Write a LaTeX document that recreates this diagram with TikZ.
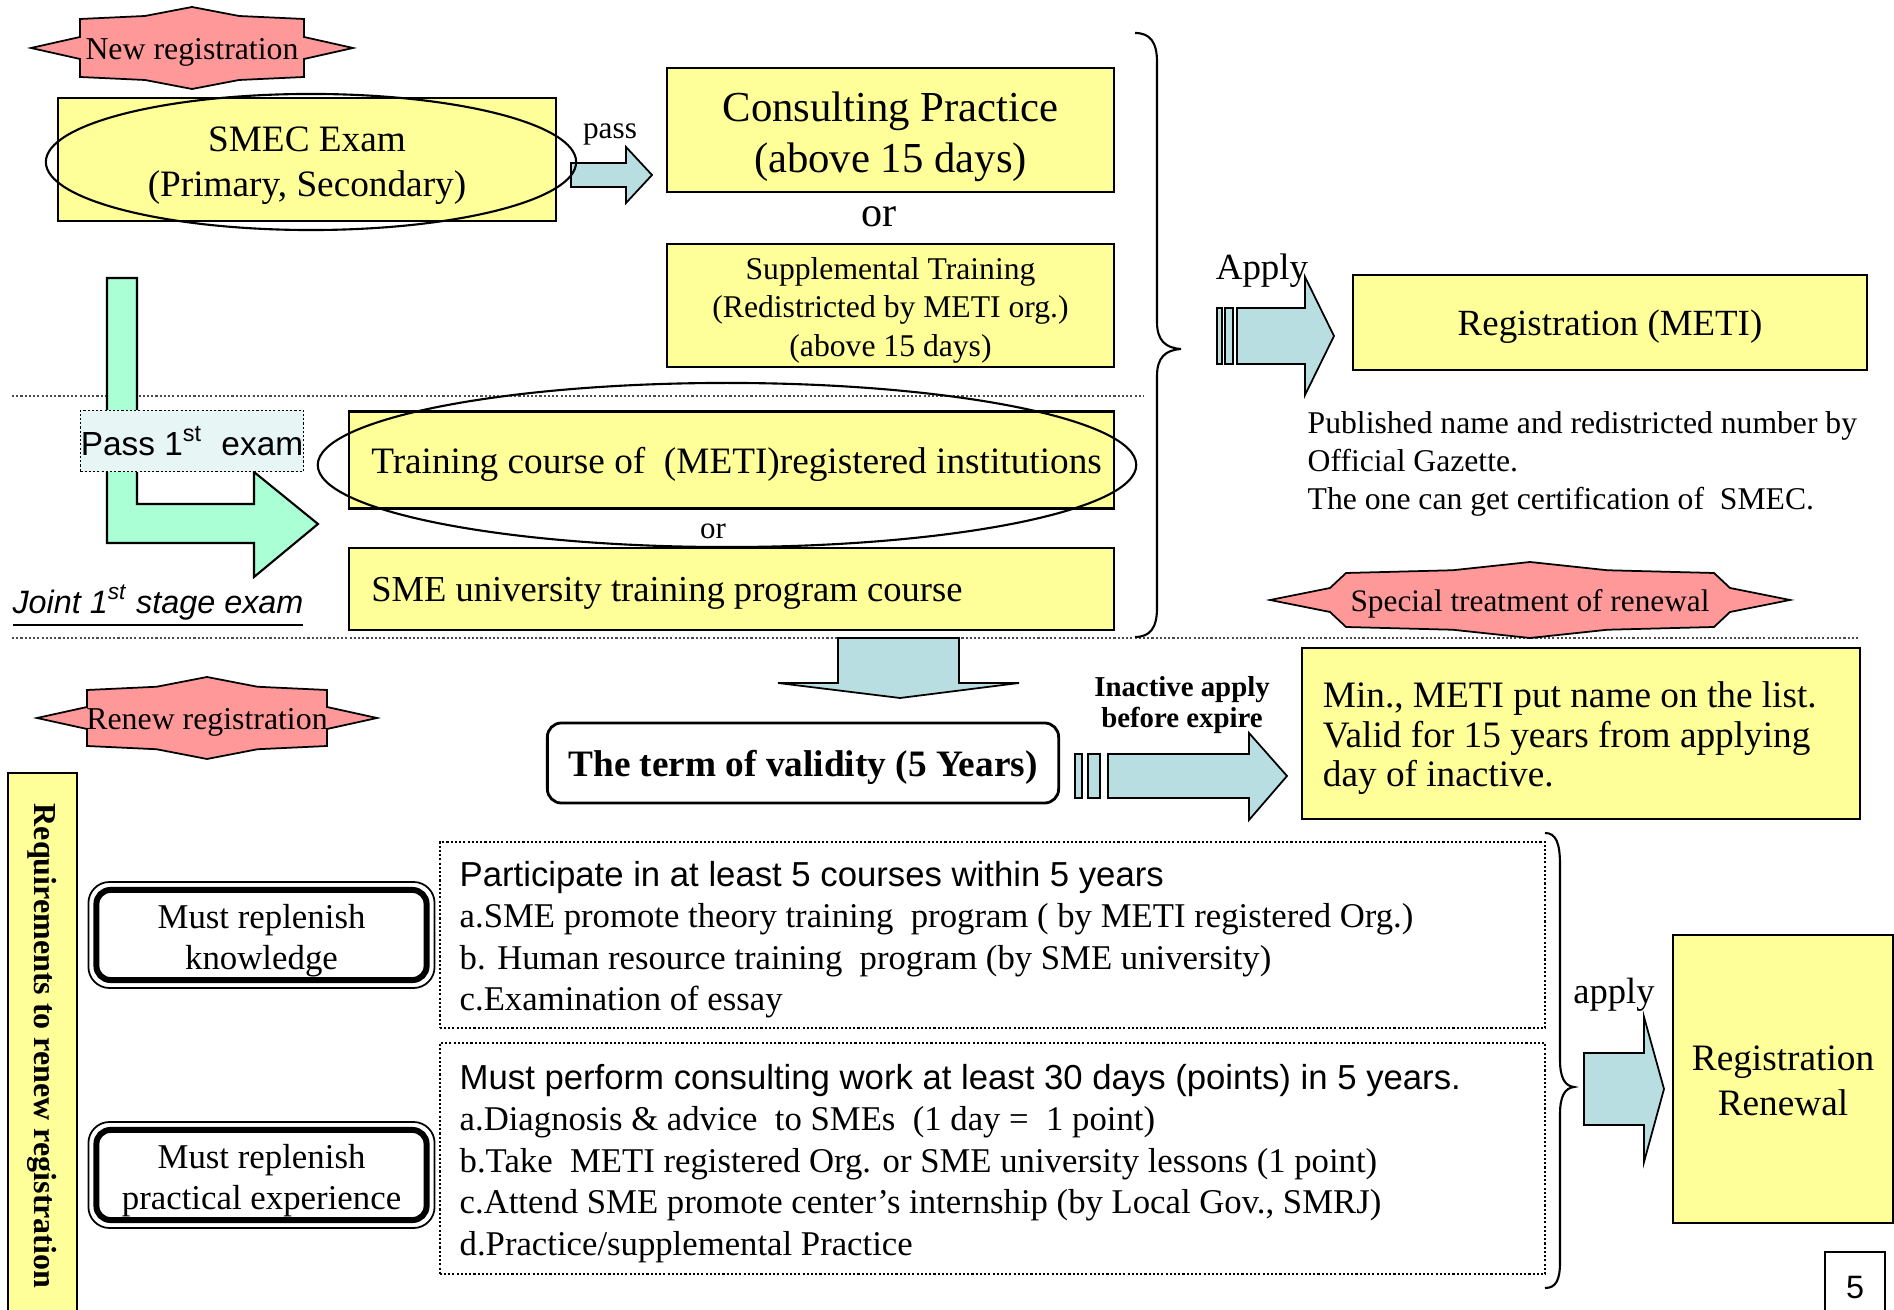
\documentclass[tikz,border=0pt]{standalone}
\usepackage{fontspec}
\setmainfont{Liberation Serif}
\setsansfont{Liberation Sans}
\usepackage{tikz}
\usetikzlibrary{calc,positioning}

\definecolor{boxyellow}{RGB}{255,255,153}
\definecolor{badgepink}{RGB}{255,153,153}
\definecolor{arrowblue}{RGB}{184,222,226}
\definecolor{mintgreen}{RGB}{170,255,212}
\definecolor{passcyan}{RGB}{232,245,245}

\newcommand{\setfs}[2]{\fontsize{#1}{#2}\selectfont}
\newcommand{\topgap}[1]{\rule{0pt}{#1}}
% centre x, centre y, body half width, body half height, tip, peak, notch x, notch y
\newcommand{\badge}[8]{%
  \draw[badge] ({#1-#5},{#2}) -- ({#1-#7},{#2-#8}) -- ({#1-#3},{#2-#4})
    -- ({#1-0.42*#3},{#2-#4-0.25*(#6-#4)}) -- ({#1},{#2-#6})
    -- ({#1+0.42*#3},{#2-#4-0.25*(#6-#4)}) -- ({#1+#3},{#2-#4})
    -- ({#1+#7},{#2-#8}) -- ({#1+#5},{#2}) -- ({#1+#7},{#2+#8})
    -- ({#1+#3},{#2+#4}) -- ({#1+0.42*#3},{#2+#4+0.25*(#6-#4)})
    -- ({#1},{#2+#6}) -- ({#1-0.42*#3},{#2+#4+0.25*(#6-#4)})
    -- ({#1-#3},{#2+#4}) -- ({#1-#7},{#2+#8}) -- cycle;}

\tikzset{
  ybox/.style={draw, fill=boxyellow, line width=0.6pt, align=center, inner sep=0pt},
  badge/.style={draw, fill=badgepink, line width=0.5pt},
  blockarrow/.style={draw, fill=arrowblue, line width=0.5pt},
  infobox/.style={draw, line width=0.5pt, dash pattern=on 0.6pt off 0.6pt, inner sep=0pt},
  sepline/.style={black!70, line width=0.5pt, dash pattern=on 0.6pt off 0.6pt},
  mustbox/.style={draw, line width=1.7pt, rounded corners=4pt, minimum width=3.3cm,
    minimum height=0.9cm, align=center, inner sep=0pt, font=\setfs{9.9pt}{11.9pt}},
}

\begin{document}
\begin{tikzpicture}[x=0.01cm,y=-0.01cm]
\useasboundingbox (0,0) rectangle (1894,1310);

% separators
\draw[sepline] (12,396) -- (1144,396);
\draw[sepline] (12,638) -- (1858,638);

% new registration
\badge{192}{48}{112}{29}{161}{41}{112}{11}
\node[font=\setfs{9.05pt}{11pt}] (newreg) at (192,52) {New registration};

\node[ybox, minimum width=4.97cm, minimum height=1.23cm, font=\setfs{10.6pt}{12.8pt}] (smec) at (307,159.5) {\topgap{10.4pt}SMEC Exam\\(Primary, Secondary)};
\draw[blockarrow] (571,163) -- (626,163) -- (626,147) -- (652,175) -- (626,203) -- (626,187) -- (571,187) -- cycle;
\draw[line width=0.6pt] (311,162) ellipse [x radius=2.65cm, y radius=0.68cm];
\node[font=\setfs{8.9pt}{10pt}] (pass) at (610,134) {pass};

\node[ybox, minimum width=4.47cm, minimum height=1.24cm, font=\setfs{12.15pt}{14.4pt}] (consult) at (890.5,130) {\topgap{12.3pt}Consulting Practice\\(above 15 days)};
\node[font=\setfs{12pt}{14pt}] (orA) at (879,217) {or};
\node[ybox, minimum width=4.47cm, minimum height=1.23cm, font=\setfs{9pt}{11pt}] (suppl) at (890.5,305.5) {\topgap{8.9pt}Supplemental Training\\(Redistricted by METI org.)\\(above 15 days)};

% joint 1st stage
\draw[fill=mintgreen, line width=0.6pt] (107,278) -- (137,278) -- (137,504) -- (254,504) -- (254,472) -- (318,524) -- (254,577) -- (254,543) -- (107,543) -- cycle;
\node[infobox, fill=passcyan, minimum width=2.23cm, minimum height=0.61cm, font=\sffamily\setfs{9.5pt}{11pt}] (passfirst) at (192,441) {Pass 1\textsuperscript{st}\ \ exam};
\node[font=\sffamily\itshape\setfs{9.2pt}{11pt}] (joint) at (158,606) {\underline{Joint 1\textsuperscript{st} stage exam}};

\node[ybox, minimum width=7.65cm, minimum height=0.97cm, text width=7.2cm, inner xsep=0.225cm, align=flush left, text depth=-1pt, font=\setfs{10.6pt}{12.6pt}] (training) at (731.5,460) {\mbox{Training course of\ \ (METI)registered institutions}};
\draw[line width=0.6pt] (727,465) ellipse [x radius=4.09cm, y radius=0.82cm];
\node[font=\setfs{8.8pt}{10pt}] (orB) at (713,531) {or};
\node[ybox, minimum width=7.65cm, minimum height=0.82cm, text width=7.2cm, inner xsep=0.225cm, align=flush left, text depth=-1pt, font=\setfs{10.4pt}{12.6pt}] (smeuniv) at (731.5,589) {\mbox{SME university training program course}};

% brace and registration
\draw[line width=0.6pt] (1135,33) .. controls (1150,33) and (1157,42) .. (1157,62) -- (1157,322) .. controls (1157,340) and (1165,348) .. (1181,349) .. controls (1165,350) and (1157,358) .. (1157,376) -- (1157,608) .. controls (1157,628) and (1150,637) .. (1135,637);
\draw[blockarrow] (1217,308) rectangle (1222,364);
\draw[blockarrow] (1225,308) rectangle (1233,364);
\draw[blockarrow] (1237,308) -- (1305,308) -- (1305,277) -- (1334,336) -- (1305,395) -- (1305,364) -- (1237,364) -- cycle;
\node[anchor=base, font=\setfs{10.5pt}{12pt}] (apply) at (1262,280) {Apply};
\node[ybox, minimum width=5.14cm, minimum height=0.95cm, text depth=-1pt, font=\setfs{10.5pt}{12pt}] (regmeti) at (1610,322.5) {Registration (METI)};
\node[anchor=west, align=flush left, inner sep=0pt, font=\setfs{9pt}{10.8pt}] (published) at (1307,464) {Published name and redistricted number by\\Official Gazette.\\The one can get certification of\ \ SMEC.};

\badge{1530}{600}{184}{27}{260}{38}{200}{12}
\node[font=\setfs{8.9pt}{10pt}] (special) at (1530,604) {Special treatment of renewal};

% term of validity
\draw[blockarrow] (838,638) -- (959,638) -- (959,683) -- (1019,683) -- (900,698) -- (778,683) -- (838,683) -- cycle;
\node[draw, line width=0.8pt, rounded corners=4pt, minimum width=5.11cm, minimum height=0.8cm, text depth=-1pt, font=\bfseries\setfs{10.6pt}{12pt}] (term) at (803,763) {The term of validity (5 Years)};
\draw[blockarrow] (1075,754) rectangle (1082,798);
\draw[blockarrow] (1088,754) rectangle (1100,798);
\draw[blockarrow] (1108,754) -- (1249,754) -- (1249,733) -- (1287,776) -- (1249,820) -- (1249,798) -- (1108,798) -- cycle;
\node[align=center, font=\bfseries\setfs{8.2pt}{8.8pt}] (inactive) at (1182,705) {Inactive apply\\before expire};
\node[ybox, minimum width=5.58cm, minimum height=1.71cm, text width=5.16cm, inner xsep=0.21cm, align=flush left, font=\setfs{10.6pt}{11.24pt}] (minmeti) at (1581,733.5) {\topgap{10pt}Min., METI put name on the list.\\Valid for 15 years from applying\\day of inactive.};

% renew registration
\badge{207}{718}{120}{28}{170}{41}{120}{11}
\node[font=\setfs{9.05pt}{11pt}] (renew) at (207,722) {Renew registration};
\draw[fill=boxyellow, line width=0.6pt] (8,773) rectangle (77,1330);
\node[rotate=-90, font=\bfseries\setfs{9.1pt}{11pt}] (reqtext) at (42,1046) {Requirements to renew registration};

\node[mustbox] (mustknow) at (261.5,935) {\topgap{10.1pt}Must replenish\\knowledge};
\draw[line width=0.5pt, rounded corners=6pt] ($(mustknow.north west)+(-5,-5)$) rectangle ($(mustknow.south east)+(5,5)$);
\node[mustbox] (mustprac) at (261.5,1175) {\topgap{10.1pt}Must replenish\\practical experience};
\draw[line width=0.5pt, rounded corners=6pt] ($(mustprac.north west)+(-5,-5)$) rectangle ($(mustprac.south east)+(5,5)$);

\node[infobox, minimum width=11.05cm, minimum height=1.86cm, text width=10.65cm, inner xsep=0.2cm, align=flush left, font=\setfs{9.87pt}{11.8pt}] (coursebox) at (992.5,935) {\topgap{9.9pt}\textsf{Participate in at least 5 courses within 5 years}\\a.SME promote theory training\ \ program ( by METI registered Org.)\\b. Human resource training\ \ program (by SME university)\\c.Examination of essay};
\node[infobox, minimum width=11.05cm, minimum height=2.31cm, text width=10.65cm, inner xsep=0.2cm, align=flush left, font=\setfs{9.87pt}{11.8pt}] (workbox) at (992.5,1158.5) {\topgap{9.9pt}\textsf{Must perform consulting work at least 30 days (points) in 5 years.}\\a.Diagnosis \& advice\ \ to SMEs\ \ (1 day =\ \ 1 point)\\b.Take\ \ METI registered Org. or SME university lessons (1 point)\\c.Attend SME promote center’s internship (by Local Gov., SMRJ)\\d.Practice/supplemental Practice};

% renewal
\draw[line width=0.6pt] (1545,833) .. controls (1556,833) and (1560,843) .. (1560,865) -- (1560,1060) .. controls (1560,1078) and (1565,1086) .. (1574,1087) .. controls (1565,1088) and (1560,1096) .. (1560,1114) -- (1560,1262) .. controls (1560,1280) and (1556,1288) .. (1545,1288);
\draw[blockarrow] (1584,1053) -- (1644,1053) -- (1644,1017) -- (1664,1089) -- (1644,1162) -- (1644,1125) -- (1584,1125) -- cycle;
\node[anchor=base, font=\setfs{10.4pt}{12pt}] (applyb) at (1614,1004) {apply};
\node[ybox, minimum width=2.2cm, minimum height=2.88cm, font=\setfs{10.6pt}{12.8pt}] (renewal) at (1783,1079) {\topgap{8.3pt}Registration\\Renewal};

\draw[line width=0.6pt] (1825,1252) rectangle (1885,1330);
\node[font=\sffamily\setfs{9.2pt}{11pt}] (pagenum) at (1855,1288) {5};
\end{tikzpicture}
\end{document}
